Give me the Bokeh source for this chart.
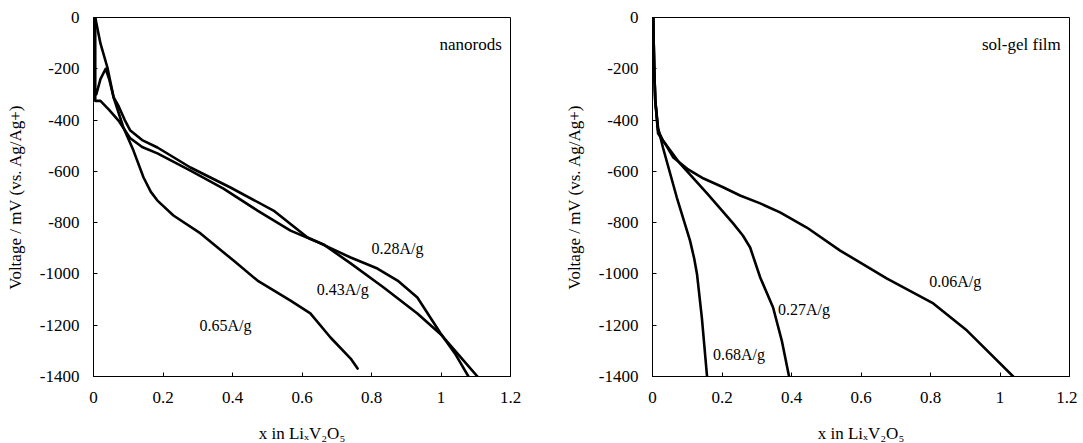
from bokeh.plotting import figure
from bokeh.layouts import row
from bokeh.models import FixedTicker, CustomJSTickFormatter, Range1d
from bokeh.core.properties import value
from bokeh.embed import file_html
from bokeh.resources import INLINE

# ---------------- data: nanorods ----------------
nr028_x = [0.005, 0.005, 0.012, 0.02, 0.045, 0.072, 0.105, 0.14, 0.184, 0.279, 0.374, 0.472, 0.567, 0.653,
           0.74, 0.817, 0.875, 0.932, 0.999, 1.04, 1.079]
nr028_y = [0, -325, -325, -325, -360, -402, -470, -505, -530, -597, -667, -753, -831, -881,
           -936, -979, -1026, -1092, -1232, -1310, -1400]

nr043_x = [0.005, 0.008, 0.02, 0.035, 0.045, 0.058, 0.072, 0.09, 0.106, 0.14, 0.184, 0.279, 0.394, 0.518,
           0.616, 0.662, 0.74, 0.835, 0.932, 0.999, 1.047, 1.105]
nr043_y = [-280, -300, -240, -200, -240, -312, -345, -400, -441, -478, -507, -585, -663, -753,
           -858, -885, -959, -1053, -1154, -1235, -1310, -1400]

nr065_x = [0.005, 0.02, 0.04, 0.058, 0.086, 0.115, 0.144, 0.165, 0.184, 0.23, 0.308, 0.403, 0.472,
           0.567, 0.624, 0.682, 0.74, 0.76]
nr065_y = [0, -101, -195, -312, -429, -519, -624, -680, -714, -772, -842, -948, -1026,
           -1104, -1154, -1248, -1330, -1369]

# ---------------- data: sol-gel film ----------------
sg006_x = [0.002, 0.005, 0.008, 0.016, 0.036, 0.06, 0.1, 0.147, 0.2, 0.252, 0.31, 0.367, 0.444, 0.54,
           0.675, 0.808, 0.905, 1.038]
sg006_y = [0, -200, -324, -452, -491, -546, -590, -628, -660, -694, -725, -760, -819, -909,
           -1018, -1115, -1221, -1400]

sg027_x = [0.002, 0.005, 0.008, 0.016, 0.03, 0.079, 0.157, 0.232, 0.26, 0.281, 0.31, 0.347, 0.372, 0.393]
sg027_y = [0, -200, -324, -440, -480, -569, -686, -803, -850, -897, -1014, -1131, -1260, -1400]

sg068_x = [0.002, 0.005, 0.008, 0.016, 0.03, 0.07, 0.108, 0.12, 0.128, 0.142, 0.157]
sg068_y = [0, -200, -324, -430, -507, -702, -870, -940, -1000, -1170, -1400]

# ---------------- labels ----------------
nr_labels = ["0.28A/g", "0.43A/g", "0.65A/g"]
nr_label_x = [0.875, 0.717, 0.38]
nr_label_y = [-901, -1061, -1201]

sg_labels = ["0.06A/g", "0.27A/g", "0.68A/g"]
sg_label_x = [0.871, 0.436, 0.249]
sg_label_y = [-1030, -1139, -1314]

x_ticks = [0, 0.2, 0.4, 0.6, 0.8, 1.0, 1.2]
y_ticks = [0, -200, -400, -600, -800, -1000, -1200, -1400]

FONT = "Liberation Serif"


def make_fig(series, labels, lx, ly, title_text, left, right):
    p = figure(output_backend="svg", toolbar_location=None,
               frame_width=417, frame_height=359,
               min_border_left=left, min_border_right=right,
               min_border_top=17, min_border_bottom=60,
               x_range=Range1d(0, 1.2), y_range=Range1d(-1400, 0))
    p.background_fill_color = "white"
    p.border_fill_color = "white"
    p.outline_line_color = "black"
    p.outline_line_width = 1
    p.xgrid.visible = False
    p.ygrid.visible = False
    for xs, ys in series:
        p.line(xs, ys, line_color="black", line_width=2.6, line_join="round", line_cap="round")
    p.text(x=lx, y=ly, text=labels, text_font=value(FONT), text_font_size="16px",
           text_align="center", text_baseline="middle", text_color="black")
    p.text(x=[1.175], y=[-105], text=[title_text], text_font=value(FONT), text_font_size="17px",
           text_align="right", text_baseline="middle", text_color="black")
    for ax in (p.xaxis[0], p.yaxis[0]):
        ax.major_tick_in = 4
        ax.major_tick_out = 0
        ax.minor_tick_in = 0
        ax.minor_tick_out = 0
        ax.axis_line_color = "black"
        ax.major_tick_line_color = "black"
        ax.major_label_text_font = FONT
        ax.major_label_text_font_size = "17px"
        ax.major_label_text_color = "black"
        ax.axis_label_text_font = FONT
        ax.axis_label_text_font_size = "17px"
        ax.axis_label_text_font_style = "normal"
        ax.axis_label_text_color = "black"
    p.xaxis.ticker = FixedTicker(ticks=x_ticks)
    p.yaxis.ticker = FixedTicker(ticks=y_ticks)
    p.xaxis.formatter = CustomJSTickFormatter(code="return tick.toFixed(1).replace(/\\.0$/, '');")
    p.yaxis.formatter = CustomJSTickFormatter(code="return tick.toFixed(0);")
    p.xaxis.axis_label = "x in LiₓV₂O₅"
    p.yaxis.axis_label = "Voltage / mV (vs. Ag/Ag+)"
    p.xaxis.major_label_standoff = 15
    p.yaxis.major_label_standoff = 14
    p.xaxis.axis_label_standoff = 18
    p.yaxis.axis_label_standoff = 12
    return p


p1 = make_fig([(nr028_x, nr028_y), (nr043_x, nr043_y), (nr065_x, nr065_y)],
              nr_labels, nr_label_x, nr_label_y, "nanorods", 93, 50)
p2 = make_fig([(sg006_x, sg006_y), (sg027_x, sg027_y), (sg068_x, sg068_y)],
              sg_labels, sg_label_x, sg_label_y, "sol-gel film", 92, 8)

layout = row(p1, p2)
open("out.html", "w").write(file_html(layout, INLINE))
